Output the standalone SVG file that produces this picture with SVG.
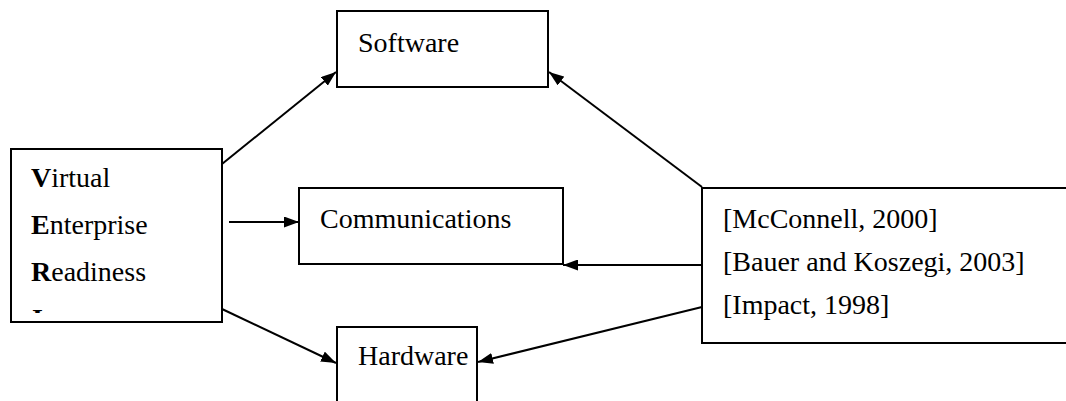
<svg xmlns="http://www.w3.org/2000/svg" width="1066" height="401" viewBox="0 0 1066 401">
  <style>
    .box { fill: #fff; stroke: #000; stroke-width: 2; }
    .lbl { font-family: "Liberation Serif", "Times New Roman", serif; font-size: 28px; fill: #000; }
    .edge { stroke: #000; stroke-width: 2; fill: none; marker-end: url(#arrow); }
  </style>
  <defs>
    <marker id="arrow" viewBox="0 0 15 11" refX="15" refY="5.5" markerWidth="15" markerHeight="11" markerUnits="userSpaceOnUse" orient="auto">
      <path d="M0,0 L15,5.5 L0,11 Z" fill="#000"/>
    </marker>
    <!-- the fourth line of the left box runs past its text frame; only its top shows -->
    <clipPath id="vercut">
      <rect x="11" y="300" width="210" height="13"/>
    </clipPath>
  </defs>
  <rect width="1066" height="401" fill="#fff"/>

  <g id="connectors">
    <line class="edge" x1="222" y1="164" x2="336" y2="72"/>
    <line class="edge" x1="229" y1="222" x2="299" y2="222"/>
    <line class="edge" x1="222" y1="309" x2="336" y2="363"/>
    <line class="edge" x1="702" y1="187" x2="549" y2="72"/>
    <line class="edge" x1="702" y1="265" x2="563" y2="265"/>
    <line class="edge" x1="702" y1="307" x2="478" y2="362"/>
  </g>

  <g id="software">
    <rect class="box" x="337" y="11" width="211" height="76"/>
    <text class="lbl" x="358" y="52">Software</text>
  </g>

  <g id="communications">
    <rect class="box" x="299" y="188" width="264" height="76"/>
    <text class="lbl" x="320" y="228">Communications</text>
  </g>

  <g id="hardware">
    <rect class="box" x="337" y="327" width="140" height="90"/>
    <text class="lbl" x="358" y="365">Hardware</text>
  </g>

  <g id="ver">
    <rect class="box" x="11" y="149" width="211" height="173"/>
    <text class="lbl" x="31" y="187"><tspan font-weight="bold">V</tspan>irtual</text>
    <text class="lbl" x="31" y="234"><tspan font-weight="bold">E</tspan>nterprise</text>
    <text class="lbl" x="31" y="281"><tspan font-weight="bold">R</tspan>eadiness</text>
    <text class="lbl" x="32" y="328" font-weight="bold" clip-path="url(#vercut)">I</text>
  </g>

  <g id="sources">
    <rect class="box" x="702" y="188" width="380" height="155"/>
    <text class="lbl" x="723" y="228">[McConnell, 2000]</text>
    <text class="lbl" x="723" y="271">[Bauer and Koszegi, 2003]</text>
    <text class="lbl" x="723" y="314">[Impact, 1998]</text>
  </g>
</svg>
